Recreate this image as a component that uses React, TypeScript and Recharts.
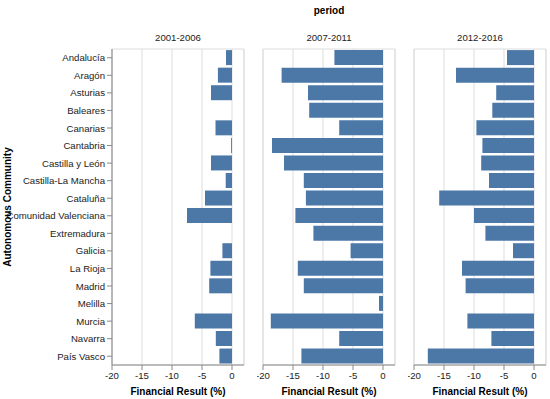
import React from 'react';
import { BarChart, Bar, XAxis, YAxis, CartesianGrid, ReferenceArea } from 'recharts';

const categories = [
  'Andalucía', 'Aragón', 'Asturias', 'Baleares', 'Canarias', 'Cantabria',
  'Castilla y León', 'Castilla-La Mancha', 'Cataluña', 'Comunidad Valenciana',
  'Extremadura', 'Galicia', 'La Rioja', 'Madrid', 'Melilla', 'Murcia', 'Navarra', 'País Vasco',
];
const periods = ['2001-2006', '2007-2011', '2012-2016'];
const values2001 = [-1.0, -2.35, -3.5, null, -2.75, -0.15, -3.5, -1.05, -4.5, -7.5, null, -1.6, -3.6, -3.8, null, -6.2, -2.7, -2.1];
const values2007 = [-8.1, -16.9, -12.5, -12.3, -7.3, -18.5, -16.5, -13.2, -12.85, -14.6, -11.6, -5.4, -14.2, -13.2, -0.67, -18.7, -7.3, -13.6];
const values2012 = [-4.5, -13.0, -6.3, -6.95, -9.6, -8.6, -8.8, -7.5, -15.8, -10.0, -8.1, -3.5, -12.0, -11.4, null, -11.1, -7.1, -17.7];
const xTicks = [-20, -15, -10, -5, 0];
const xDomain = [-20, 2];

const seriesList = [values2001, values2007, values2012];

const FONT = '"Liberation Sans", Arial, sans-serif';
const BAR = '#4c78a8';

function CatTick(props: any) {
  const { x, y, payload } = props;
  return (
    <text x={x} y={y} textAnchor="end" dominantBaseline="central" fontSize={9.6} fill="#222">
      {payload.value}
    </text>
  );
}

function Panel({ idx, left, width, showY }: { idx: number; left: number; width: number; showY: boolean }) {
  const data = categories.map((name, i) => ({ name, value: seriesList[idx][i] }));
  return (
    <div style={{ position: 'absolute', left, top: 0 }}>
      <BarChart
        width={width}
        height={399}
        data={data}
        layout="vertical"
        barCategoryGap={1.1}
        margin={{ top: 49, right: 6, bottom: 0, left: showY ? 0 : 6 }}
      >
        <CartesianGrid horizontal={false} stroke="#ddd" />
        <ReferenceArea x1={-20} x2={2} stroke="#ddd" fill="none" fillOpacity={0} ifOverflow="extendDomain" />
        <XAxis
          type="number"
          domain={xDomain}
          ticks={xTicks}
          interval={0}
          height={34}
          tickSize={5}
          stroke="#888"
          tick={{ fontSize: 9.6, fill: '#222' }}
          label={{ value: 'Financial Result (%)', position: 'insideBottom', offset: 4, style: { fontWeight: 'bold', fontSize: 10, fill: '#000' } }}
        />
        <YAxis
          type="category"
          dataKey="name"
          width={112}
          hide={!showY}
          interval={0}
          tickSize={5}
          stroke="#888"
          tick={<CatTick />}
        />
        <Bar dataKey="value" fill={BAR} isAnimationActive={false} />
      </BarChart>
    </div>
  );
}

export default function App() {
  const centers = [178, 329, 480];
  return (
    <div style={{ position: 'absolute', left: 0, top: 0, width: 550, height: 399, background: '#fff', fontFamily: FONT }}>
      <Panel idx={0} left={0} width={250} showY={true} />
      <Panel idx={1} left={257} width={144} showY={false} />
      <Panel idx={2} left={408} width={144} showY={false} />
      <svg width={550} height={399} style={{ position: 'absolute', left: 0, top: 0, pointerEvents: 'none' }}>
        <text x={329} y={10} textAnchor="middle" dominantBaseline="central" fontWeight="bold" fontSize={10} fill="#000">period</text>
        {periods.map((p, i) => (
          <text key={p} x={centers[i]} y={37} textAnchor="middle" dominantBaseline="central" fontSize={9.6} fill="#222">{p}</text>
        ))}
        <text x={7} y={207} transform="rotate(-90 7 207)" textAnchor="middle" dominantBaseline="central" fontWeight="bold" fontSize={10} fill="#000">Autonomous Community</text>
      </svg>
    </div>
  );
}
